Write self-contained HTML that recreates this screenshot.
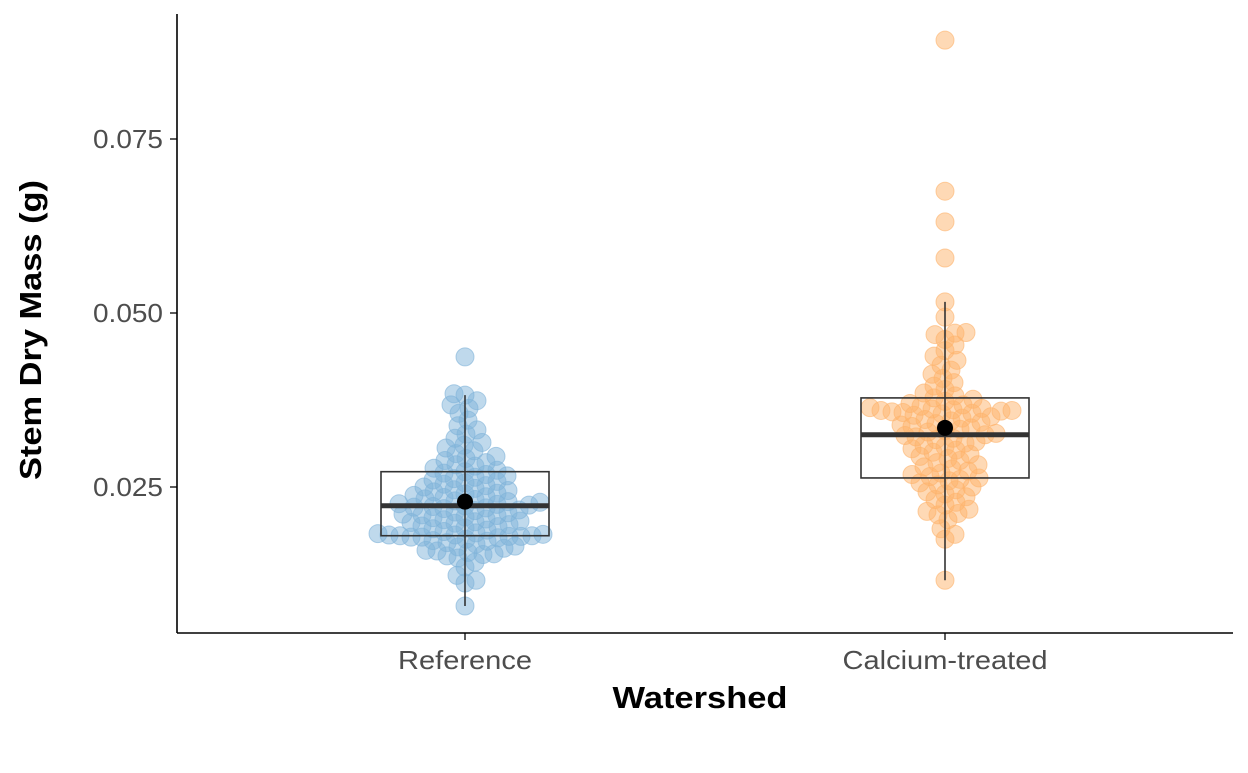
<!DOCTYPE html>
<html><head><meta charset="utf-8"><style>
body{margin:0;background:#fff;}
svg text{font-family:"Liberation Sans",Arial,sans-serif;}
</style></head><body>
<svg id="chart" width="1248" height="768" xmlns="http://www.w3.org/2000/svg">
<rect width="1248" height="768" fill="#fff"/>
<g id="ticks"></g>
<g id="points"></g>
<g id="boxes"></g>
<line x1="177" y1="14" x2="177" y2="633" stroke="#000" stroke-width="1.6"/>
<line x1="177" y1="633" x2="1233" y2="633" stroke="#000" stroke-width="1.6"/>
<text transform="translate(41,330) rotate(-90)" text-anchor="middle" font-size="31" font-weight="bold" textLength="300" lengthAdjust="spacingAndGlyphs">Stem Dry Mass (g)</text>
<text x="700" y="708" text-anchor="middle" font-size="31" font-weight="bold" textLength="175" lengthAdjust="spacingAndGlyphs">Watershed</text>
</svg>
<script>
const categories = ["Reference","Calcium-treated"];
const refValues = [7.9,11.2,11.6,12.3,13.5,14.2,14.8,15.1,15.3,15.4,15.6,15.8,15.9,16.2,16.4,16.5,16.8,17.0,17.2,17.3,17.5,17.7,17.8,17.8,17.9,17.9,18.0,18.0,18.1,18.1,18.2,18.3,18.4,18.6,18.8,19.0,19.1,19.3,19.4,19.6,19.8,19.9,20.0,20.1,20.3,20.4,20.6,20.7,20.9,21.0,21.1,21.3,21.4,21.6,21.7,21.9,22.0,22.1,22.2,22.3,22.4,22.5,22.6,22.8,22.9,23.0,23.2,23.3,23.5,23.6,23.8,24.0,24.1,24.3,24.5,24.6,24.8,25.0,25.2,25.4,25.6,25.8,26.0,26.2,26.4,26.6,26.8,27.0,27.2,27.4,27.7,28.0,28.2,28.5,28.8,29.1,29.4,29.8,30.2,30.6,31.0,31.4,32.0,32.6,33.2,33.8,34.6,35.6,36.3,36.8,37.4,38.2,38.4,43.7];
const calValues = [11.6,17.5,18.2,19.0,20.3,21.0,21.2,21.5,21.8,22.4,22.8,23.2,23.6,24.0,24.3,24.6,25.0,25.3,25.6,25.9,26.1,26.3,26.5,26.8,27.0,27.3,27.6,27.9,28.2,28.5,28.8,29.1,29.4,29.7,30.0,30.3,30.5,30.8,31.0,31.3,31.5,31.8,32.0,32.2,32.4,32.5,32.7,32.9,33.1,33.3,33.5,33.7,33.9,34.1,34.3,34.5,34.7,34.9,35.1,35.3,35.5,35.6,35.7,35.8,35.9,36.0,36.0,36.1,36.2,36.3,36.4,36.6,36.8,37.0,37.3,37.6,37.8,38.1,38.5,39.0,39.5,40.0,40.6,41.2,41.8,42.5,43.2,43.8,44.6,45.4,46.2,46.9,47.1,47.2,49.4,51.6,57.9,63.1,67.5,89.2];
const boxLow = [7.9,11.6];
const boxQ1 = [18.0,26.3];
const boxMedian = [22.3,32.5];
const boxQ3 = [27.2,37.8];
const boxHigh = [38.2,51.6];
const means = [22.9,33.5];
const yTicks = [0.025,0.050,0.075];
const yTickLabels = ["0.025","0.050","0.075"];
const xLabelLengths = [134,205];

const NS="http://www.w3.org/2000/svg";
function y(v){return 487-(v-0.025)*6960;}
function yk(v){return y(v/1000);}
function x(i){return 465+i*480;}
function mk(tag,attrs,parent){const e=document.createElementNS(NS,tag);for(const k in attrs)e.setAttribute(k,attrs[k]);parent.appendChild(e);return e;}
const ticks=document.getElementById('ticks');
yTicks.forEach((t,i)=>{
  const l=mk('line',{x1:170,x2:177,y1:y(t),y2:y(t),stroke:'#333','stroke-width':1.6},ticks);
  
  
  const tx=mk('text',{x:163,y:y(t)+9,'text-anchor':'end','font-size':26,fill:'#4d4d4d',textLength:70,lengthAdjust:'spacingAndGlyphs'},ticks);
  tx.textContent=yTickLabels[i];
  
  
});
categories.forEach((c,i)=>{
  const l=mk('line',{x1:x(i),x2:x(i),y1:633,y2:640,stroke:'#333','stroke-width':1.6},ticks);
  
  
  const tx=mk('text',{x:x(i),y:669,'text-anchor':'middle','font-size':26,fill:'#4d4d4d',textLength:xLabelLengths[i],lengthAdjust:'spacingAndGlyphs'},ticks);
  tx.textContent=c;
  
  
});
const pts=document.getElementById('points');
const series=[refValues,calValues];
const fills=['#7fb3d9','#fdb36b'];
series.forEach((vals,i)=>{
  const placed=[];
  const sorted=vals.slice().sort((a,b)=>a-b);
  const md=11;
  sorted.forEach(v=>{
    const py=yk(v);
    let best=0;
    for(let s=0;s<400;s++){
      const cand=(s%2?1:-1)*Math.ceil(s/2);
      let ok=true;
      for(const p of placed){const dx=p[0]-cand,dy=p[1]-py;if(dx*dx+dy*dy<md*md){ok=false;break;}}
      if(ok){best=cand;break;}
    }
    placed.push([best,py]);
    const c=mk('circle',{cx:x(i)+best,cy:py,r:9,fill:fills[i],'fill-opacity':0.5,stroke:fills[i],'stroke-opacity':0.6},pts);
    
    
  });
});
const bx=document.getElementById('boxes');
categories.forEach((c,i)=>{
  const w=mk('line',{x1:x(i),x2:x(i),y1:yk(boxLow[i]),y2:yk(boxHigh[i]),stroke:'#333','stroke-width':1.6},bx);
  
  
  const r=mk('rect',{x:x(i)-84,y:yk(boxQ3[i]),width:168,height:yk(boxQ1[i])-yk(boxQ3[i]),fill:'none',stroke:'#333','stroke-width':1.6},bx);
  
  
  const m=mk('line',{x1:x(i)-84,x2:x(i)+84,y1:yk(boxMedian[i]),y2:yk(boxMedian[i]),stroke:'#333','stroke-width':5},bx);
  
  
  const mn=mk('circle',{cx:x(i),cy:yk(means[i]),r:8,fill:'#000'},bx);
  
  
});
</script>
</body></html>
